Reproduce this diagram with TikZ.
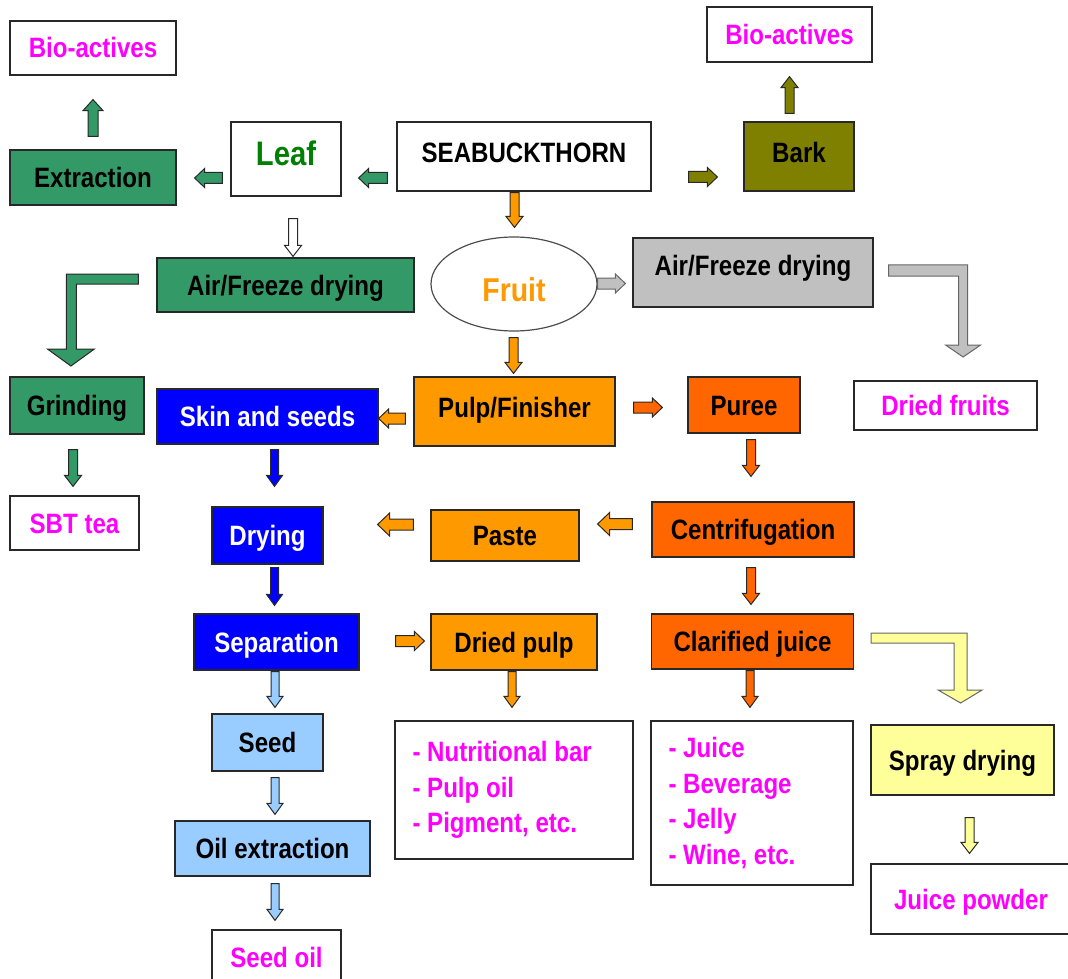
\documentclass[tikz,border=0pt]{standalone}
\usepackage{fontspec}
\setmainfont{Liberation Sans}[FakeStretch=0.86]
\usepackage{tikz}
\usetikzlibrary{calc,shapes.geometric}
\definecolor{sbtGreen}{RGB}{51,153,102}
\definecolor{sbtLeaf}{RGB}{0,128,0}
\definecolor{sbtOlive}{RGB}{128,128,0}
\definecolor{sbtBlue}{RGB}{0,0,255}
\definecolor{sbtOrange}{RGB}{255,153,0}
\definecolor{sbtRed}{RGB}{255,102,0}
\definecolor{sbtSky}{RGB}{153,204,255}
\definecolor{sbtYellow}{RGB}{255,255,153}
\definecolor{sbtGray}{RGB}{192,192,192}
\definecolor{sbtPink}{RGB}{255,0,255}
\definecolor{sbtLine}{RGB}{40,40,40}

\tikzset{
  sz/.style 2 args={minimum width=#1*0.5pt, minimum height=#2*0.5pt},
  box/.style={draw=sbtLine, line width=0.6pt, inner sep=0pt, text height=10pt, text depth=0pt,
    font=\bfseries\fontsize{14}{17}\selectfont},
  outbox/.style={box, fill=white, text=sbtPink},
  greenbox/.style={box, fill=sbtGreen},
  bluebox/.style={box, fill=sbtBlue, text=white},
  skybox/.style={box, fill=sbtSky},
  orangebox/.style={box, fill=sbtOrange},
  redbox/.style={box, fill=sbtRed},
  listbox/.style={draw=sbtLine, line width=0.6pt, fill=white, text=sbtPink, align=left,
    inner xsep=8.75pt, inner ysep=0pt, font=\bfseries\fontsize{14}{17.75}\selectfont,
    execute at begin node={\frenchspacing\spaceskip=\fontdimen2\font\xspaceskip=\fontdimen2\font}},
  ba shaft/.store in=\bashaft,
  ba head/.store in=\bahead,
  ba len/.store in=\balen,
  ba/.style={draw=sbtLine, line width=0.5pt, ba shaft=2.25pt, ba head=4.25pt, ba len=5.5pt},
  sidearrow/.style={ba shaft=2.75pt, ba head=4.75pt, ba len=5pt},
  widearrow/.style={ba shaft=2.75pt, ba head=5.75pt, ba len=6pt},
  thinarrow/.style={ba shaft=2pt, ba head=4pt, ba len=5.5pt}
}

% block arrow from #2 to the tip #3
\newcommand{\blockarrow}[3][]{%
  \begin{scope}[ba,#1]
    \coordinate (ba-s) at (#2);
    \coordinate (ba-t) at (#3);
    \coordinate (ba-c) at ($(ba-t)!\balen!(ba-s)$);
    \filldraw ($(ba-s)!\bashaft!90:(ba-t)$) -- ($(ba-c)!\bashaft!90:(ba-t)$)
      -- ($(ba-c)!\bahead!90:(ba-t)$) -- (ba-t) -- ($(ba-c)!\bahead!-90:(ba-t)$)
      -- ($(ba-c)!\bashaft!-90:(ba-t)$) -- ($(ba-s)!\bashaft!-90:(ba-t)$) -- cycle;
  \end{scope}}

\begin{document}
\begin{tikzpicture}[x=0.5pt,y=-0.5pt]
\useasboundingbox (0,0) rectangle (1068,978);
\clip (0,0) rectangle (1068,978);

% top row
\node[outbox, sz={166}{54}] (bioL) at (93,48) {Bio-actives};
\node[greenbox, sz={166}{55}] (extraction) at (93,177.5) {Extraction};
\node[box, fill=white, text=sbtLeaf, sz={110}{74}, font=\bfseries\fontsize{17}{20}\selectfont,
  text height=12.2pt, text depth=5.5pt] (leaf) at (286,159) {Leaf};
\node[box, fill=white, sz={254}{69}, text depth=4pt] (seabuck) at (524,156.5) {SEABUCKTHORN};
\node[box, fill=sbtOlive, sz={110}{69}, text depth=4pt] (bark) at (799,156.5) {Bark};
\node[outbox, sz={165}{55}] (bioR) at (789.5,34.5) {Bio-actives};

% fruit and drying
\node[ellipse, draw=black!70, line width=0.6pt, fill=white, inner sep=0pt, sz={166}{94},
  text=sbtOrange, font=\bfseries\fontsize{16.5}{19}\selectfont, text height=17.3pt, text depth=0pt]
  (fruit) at (514,284) {Fruit};
\node[box, fill=sbtGray, sz={240}{69}, text depth=7pt] (afdGray) at (753,272.5) {Air/Freeze drying};
\node[greenbox, sz={257}{54}] (afdGreen) at (285.5,285) {Air/Freeze drying};

% middle rows
\node[greenbox, sz={134}{57}] (grinding) at (77,405.5) {Grinding};
\node[bluebox, sz={221}{55}] (skin) at (267.5,416.5) {Skin and seeds};
\node[orangebox, sz={201}{69}, text depth=4pt] (pulp) at (514.5,411.5) {Pulp/Finisher};
\node[redbox, sz={112}{56}] (puree) at (744,405) {Puree};
\node[outbox, sz={183}{49}] (driedfruits) at (945.5,405.5) {Dried fruits};
\node[outbox, sz={129}{54}] (sbttea) at (74.5,523) {SBT tea};
\node[bluebox, sz={111}{57}] (drying) at (267.5,535.5) {Drying};
\node[orangebox, sz={148}{51}] (paste) at (505,535.5) {Paste};
\node[redbox, sz={202}{55}] (centri) at (753,529.5) {Centrifugation};
\node[bluebox, sz={165}{56}] (separation) at (276.5,642) {Separation};
\node[orangebox, sz={166}{56}] (driedpulp) at (514,642) {Dried pulp};
\node[redbox, sz={202}{55}] (clarified) at (752.5,641.5) {Clarified juice};

% bottom rows
\node[skybox, sz={111}{57}] (seed) at (267.5,742.5) {Seed};
\node[skybox, sz={195}{55}] (oilext) at (272.5,848.5) {Oil extraction};
\node[outbox, sz={129}{55}] (seedoil) at (276.5,957.5) {Seed oil};
\node[listbox, text width=101.5pt, sz={238}{138}] (nutri) at (514,790)
  {- Nutritional bar\\- Pulp oil\\- Pigment, etc.};
\node[listbox, text width=83.5pt, sz={202}{164}] (juicebox) at (752,803)
  {- Juice\\- Beverage\\- Jelly\\- Wine, etc.};
\node[box, fill=sbtYellow, sz={183}{70}] (spray) at (962.5,760) {Spray drying};
\node[outbox, sz={200}{70}] (juicepowder) at (971,899) {Juice powder};

% straight arrows
\blockarrow[fill=sbtGreen, ba shaft=2.5pt, ba head=5pt]{$(extraction.north)+(0,-13)$}{$(bioL.south)+(0,24)$}
\blockarrow[fill=sbtGreen, sidearrow]{$(leaf.west)+(-8,19)$}{$(extraction.east)+(18,0.5)$}
\blockarrow[fill=sbtGreen, sidearrow]{$(seabuck.west)+(-9,21.5)$}{$(leaf.east)+(17,19)$}
\blockarrow[fill=sbtOlive, sidearrow]{$(seabuck.east)+(37,20.5)$}{$(bark.west)+(-26,20.5)$}
\blockarrow[fill=sbtOlive]{$(bark.north)+(-9.5,-8)$}{$(bioR.south)+(0,14)$}
\blockarrow[fill=sbtOrange]{$(seabuck.south)+(-9.5,1)$}{$(fruit.north)+(0.5,-9)$}
\blockarrow[fill=white]{$(leaf.south)+(7,22)$}{$(afdGreen.north)+(7.5,-1)$}
\blockarrow[fill=sbtGray, draw=black!60, sidearrow]{$(fruit.east)+(0,-0.5)$}{$(afdGray.west)+(-7,11)$}
\blockarrow[fill=sbtOrange]{$(fruit.south)+(-0.5,6)$}{$(pulp.north)+(-1,-3)$}
\blockarrow[fill=sbtOrange, sidearrow]{$(pulp.west)+(-8,7)$}{$(skin.east)+(0,2)$}
\blockarrow[fill=sbtRed, sidearrow]{$(pulp.east)+(18,-4)$}{$(puree.west)+(-25,2.5)$}
\blockarrow[fill=sbtGreen]{$(grinding.south)+(-4,15)$}{$(sbttea.north)+(-1.5,-9)$}
\blockarrow[fill=sbtBlue, thinarrow]{$(skin.south)+(7,5)$}{$(drying.north)+(7,-20)$}
\blockarrow[fill=sbtRed]{$(puree.south)+(7,6)$}{$(centri.north)+(-2,-25)$}
\blockarrow[fill=sbtOrange, widearrow]{$(centri.west)+(-19,-5.5)$}{$(paste.east)+(18,-11.5)$}
\blockarrow[fill=sbtOrange, widearrow]{$(paste.west)+(-17,-11)$}{$(drying.east)+(54,-11)$}
\blockarrow[fill=sbtBlue, thinarrow]{$(drying.south)+(7,3)$}{$(separation.north)+(-2,-8)$}
\blockarrow[fill=sbtOrange, sidearrow]{$(separation.east)+(36,-1)$}{$(driedpulp.west)+(-6,-1)$}
\blockarrow[fill=sbtRed]{$(centri.south)+(-2,10)$}{$(clarified.north)+(-1.5,-9)$}
\blockarrow[fill=sbtSky, thinarrow]{$(separation.south)+(-1.5,1)$}{$(seed.north)+(7.5,-6)$}
\blockarrow[fill=sbtOrange, thinarrow]{$(driedpulp.south)+(-2,1)$}{$(nutri.north)+(-2,-13)$}
\blockarrow[fill=sbtRed, thinarrow]{$(clarified.south)+(-2.5,1)$}{$(juicebox.north)+(-2,-13)$}
\blockarrow[fill=sbtSky, thinarrow]{$(seed.south)+(7.5,6)$}{$(oilext.north)+(2.5,-6)$}
\blockarrow[fill=sbtYellow]{$(spray.south)+(7,22)$}{$(juicepowder.north)+(-1.5,-10)$}
\blockarrow[fill=sbtSky, thinarrow]{$(oilext.south)+(2.5,7)$}{$(seedoil.north)+(-1.5,-9)$}

% bent arrows
\filldraw[ba, fill=sbtGreen] ($(afdGreen.west)+(-18,-11)$) -- ++(-72,0) -- ++(0,75) -- ++(-19,0)
  -- ++(23.5,17) -- ++(23.5,-17) -- ++(-18,0) -- ++(0,-65) -- ++(62,0) -- cycle;
\filldraw[ba, fill=sbtGray, draw=black!60] ($(afdGray.east)+(15,-7.5)$) -- ++(79,0) -- ++(0,80)
  -- ++(13,0) -- ++(-17.5,12) -- ++(-17.5,-12) -- ++(13,0) -- ++(0,-69) -- ++(-70,0) -- cycle;
\filldraw[ba, fill=sbtYellow, draw=black!60] ($(clarified.east)+(17,-8.5)$) -- ++(96,0) -- ++(0,57)
  -- ++(15,0) -- ++(-21.5,13) -- ++(-22.5,-13) -- ++(16,0) -- ++(0,-47) -- ++(-83,0) -- cycle;
\end{tikzpicture}
\end{document}
